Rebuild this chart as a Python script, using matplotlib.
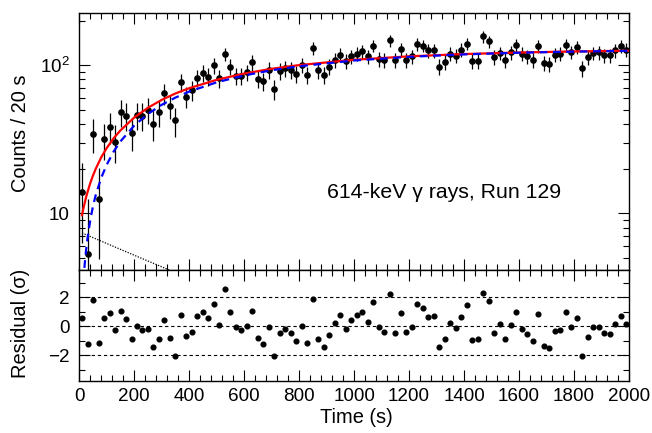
import numpy as np
import matplotlib
matplotlib.use("Agg")
import matplotlib.pyplot as plt
from matplotlib.ticker import FixedLocator, MultipleLocator, NullFormatter

plt.rcParams['font.family'] = ['Liberation Sans', 'DejaVu Sans']
plt.rcParams['mathtext.default'] = 'regular'

# 20 s bins, centre of each bin
bin_t = np.arange(10, 2000, 20)

# counts per bin
counts = [14.0, 5.3, 34.4, 12.5, 31.6, 38.5, 30.5, 48.1, 45.7, 35.1,
          46.1, 45.7, 49.9, 40.2, 47.9, 64.7, 53.4, 42.3, 76.7, 61.4,
          67.5, 82.1, 88.7, 83.8, 99.5, 81.7, 118.7, 97.9, 84.3, 84.3,
          89.2, 104.2, 80.9, 77.6, 93.0, 68.8, 91.5, 95.4, 92.5, 86.9,
          100.0, 86.0, 129.6, 92.5, 86.0, 97.9, 108.6, 117.4, 105.9, 114.4,
          119.3, 123.7, 114.4, 135.2, 109.8, 107.5, 146.7, 107.5, 128.3, 108.6,
          114.4, 138.6, 135.2, 125.6, 125.6, 97.9, 105.3, 119.3, 115.6, 126.9,
          139.4, 105.9, 105.9, 156.3, 144.5, 113.3, 120.5, 107.5, 121.8, 136.5,
          119.3, 114.4, 107.5, 133.7, 103.2, 101.6, 117.4, 119.3, 137.1, 122.4,
          131.6, 95.4, 113.3, 120.5, 121.8, 116.2, 116.2, 125.6, 133.7, 126.9]

# background-subtracted counts -> errors bigger than sqrt(N)
bkg_var = 45.0

# residuals in units of sigma (lower panel)
resid = [0.57, -1.20, 1.84, -1.15, 0.55, 0.90, -0.28, 1.08, 0.53, -0.87,
         0.02, -0.28, -0.21, -1.45, -0.87, 0.44, -0.78, -2.02, 0.76, -0.69,
         -0.37, 0.71, 0.97, 0.55, 1.56, 0.11, 2.55, 0.97, -0.05, -0.25,
         0.05, 1.03, -0.83, -1.24, -0.07, -2.02, -0.44, -0.18, -0.48, -0.99,
         0.05, -1.15, 1.89, -0.85, -1.40, -0.62, 0.25, 0.80, -0.18, 0.41,
         0.76, 0.97, 0.32, 1.70, -0.07, -0.37, 2.25, -0.44, 0.92, -0.41,
         -0.02, 1.54, 1.26, 0.62, 0.71, -1.43, -0.85, 0.21, -0.09, 0.62,
         1.47, -0.94, -0.85, 2.32, 1.72, -0.48, 0.14, -0.87, 0.09, 1.01,
         -0.21, -0.51, -1.01, 0.85, -1.38, -1.47, -0.32, -0.23, 0.97, -0.02,
         0.57, -2.05, -0.74, -0.07, -0.07, -0.46, -0.53, 0.16, 0.74, 0.18]

# fit curves
fit_t = [10, 15, 20, 25, 30, 40, 50, 60, 80, 100, 125, 150, 200, 250, 300,
         350, 400, 500, 600, 700, 800, 1000, 1200, 1400, 1600, 1800, 2000]
fit_total = [9.7, 10.8, 11.8, 12.9, 13.9, 16.0, 18.0, 20.0, 23.9, 27.6, 32.1,
             36.3, 44.3, 51.6, 58.3, 64.4, 69.9, 79.6, 87.7, 94.5, 100.1,
             108.7, 114.7, 118.8, 121.7, 123.7, 125.1]
fit_growth = [2.3, 3.5, 4.6, 5.7, 6.8, 9.0, 11.2, 13.3, 17.4, 21.3, 26.1,
              30.6, 39.1, 46.9, 54.0, 60.4, 66.3, 76.6, 85.2, 92.4, 98.3,
              107.5, 113.8, 118.2, 121.3, 123.4, 124.9]
decay_t = [10, 100, 200, 300, 400]
fit_decay = [7.36, 6.25, 5.21, 4.35, 3.62]

counts = np.array(counts)
errs = np.sqrt(counts + bkg_var)

fig = plt.figure(figsize=(6.52, 4.33), dpi=100)
ax1 = fig.add_axes([0.1216, 0.3764, 0.8431, 0.5943])
ax2 = fig.add_axes([0.1216, 0.1201, 0.8431, 0.2563], sharex=ax1)

# upper panel
ax1.errorbar(bin_t, counts, yerr=errs, fmt='o', color='black', ms=3.8,
             elinewidth=0.9, capsize=0, zorder=2)
ax1.plot(fit_t, fit_total, color='red', lw=1.6, zorder=3)
ax1.plot(fit_t, fit_growth, color='blue', lw=1.6, ls=(0, (3.5, 2.5)), zorder=4)
ax1.plot(decay_t, fit_decay, color='black', lw=0.9, ls=(0, (1, 1.2)), zorder=3)

ax1.set_yscale('log')
ax1.set_xlim(0, 2000)
ax1.set_ylim(4.14, 226)
ax1.yaxis.set_major_locator(FixedLocator([10, 100]))
ax1.yaxis.set_minor_locator(FixedLocator([5, 6, 7, 8, 9, 20, 30, 40, 50, 60, 70, 80, 90, 200]))
ax1.set_yticklabels(['10', '$10^2$'])
ax1.yaxis.set_minor_formatter(NullFormatter())
ax1.set_ylabel('Counts / 20 s', fontsize=14.4)
ax1.yaxis.set_label_coords(-0.09, 0.53)
ax1.text(0.45, 0.30, '614-keV γ rays, Run 129', transform=ax1.transAxes,
         fontsize=15.3, va='center', ha='left')
plt.setp(ax1.get_xticklabels(), visible=False)

# lower panel
ax2.plot(bin_t, resid, 'o', color='black', ms=3.4)
for lvl in [-2, 0, 2]:
    ax2.axhline(lvl, color='black', lw=0.8, ls=(0, (3, 2.5)))
ax2.set_ylim(-3.77, 3.88)
ax2.yaxis.set_major_locator(FixedLocator([-2, 0, 2]))
ax2.yaxis.set_minor_locator(MultipleLocator(1))
ax2.xaxis.set_major_locator(MultipleLocator(200))
ax2.xaxis.set_minor_locator(MultipleLocator(40))
ax2.set_xlabel('Time (s)', fontsize=14.4)
ax2.xaxis.set_label_coords(0.504, -0.245)
ax2.set_ylabel('Residual (σ)', fontsize=14.4)
ax2.yaxis.set_label_coords(-0.09, 0.52)

for ax in (ax1, ax2):
    ax.tick_params(which='both', direction='in', top=True, right=True,
                   labelsize=13.6, width=0.8)
    ax.tick_params(which='major', length=8, pad=5)
    ax.tick_params(which='minor', length=4.5)
    for sp in ax.spines.values():
        sp.set_linewidth(1.0)
ax1.tick_params(axis='y', pad=7)
ax2.tick_params(axis='y', pad=7)

fig.savefig('out.png', dpi=100)
